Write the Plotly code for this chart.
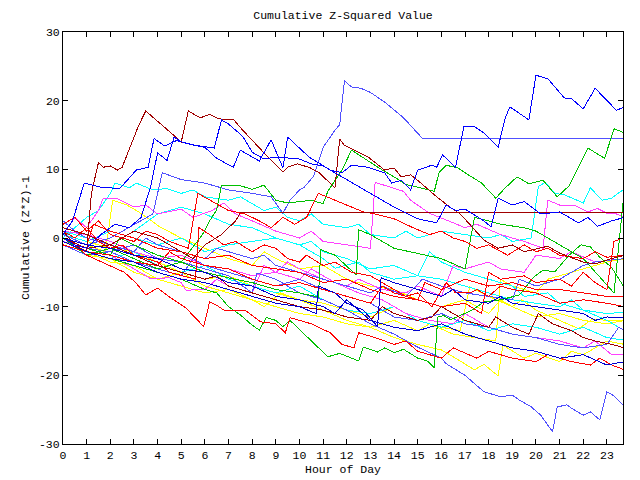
import plotly.graph_objects as go

# ---------------- data (hour of day, cumulative (Z*Z)-1) ----------------
x_ticks = list(range(0, 24))
y_ticks = [-30, -20, -10, 0, 10, 20, 30]

b1_x = [0, 0.4, 0.9, 1.6, 2.4, 3.1, 3.6, 3.85, 4.3, 4.8, 5.4, 6.0, 6.5, 7.2, 7.5, 8.3, 8.8, 9.3, 9.5, 10.4, 11.3, 11.8, 12.2, 12.9, 13.6, 13.9, 14.3, 14.7, 15.0, 15.6, 15.8, 16.05, 16.6, 16.95, 17.4, 17.8, 18.4, 18.7, 18.9, 19.7, 20.0, 20.5, 21.2, 21.5, 22.0, 22.5, 22.9, 23.4, 23.75]
b1_y = [0.5, 2.5, 8, 7.4, 7.2, 9.9, 10.3, 14.5, 13.4, 14.2, 13.6, 13.2, 11.6, 10.3, 12.8, 11.2, 14.3, 10.2, 14.7, 11.8, 9.9, 9.5, 10.6, 10.3, 9.5, 8, 8.4, 7, 9.9, 10.6, 10.3, 12.1, 10.3, 16.2, 16.2, 15.3, 13.2, 17.5, 19.1, 17.2, 23.7, 23.2, 20.4, 20.3, 18.8, 21.8, 20.4, 18.6, 19.1]

b3_x = [0, 0.5, 1, 1.6, 2.2, 2.8, 3.3, 3.7, 4.0, 4.4, 4.7, 5.0, 5.6, 6.4, 6.7, 7.0, 7.6, 8.0, 8.5, 9.0, 10, 10.5, 11, 12, 13, 14, 15, 15.8, 16.2, 16.6, 17.0, 17.8, 18.1, 18.4, 19.0, 19.5, 20.2, 21, 21.8, 22.2, 22.6, 23.2, 23.75]
b3_y = [0, -1, -1.5, 0.5, 2, 1.5, 3, 7.4, 12.4, 11.3, 14.7, 14.0, 13.5, 13.1, 17.2, 16.6, 14.8, 12.5, 11.5, 11.8, 11.5, 10.8, 10.5, 8.5, 6.5, 4.5, 2.8, 2.2, 4.8, 4.0, 4.2, 2.5, 1.6, 5.8, 4.8, 5.3, 3.5, 3.8, 2.2, 3.0, 1.7, 2.5, 3.0]

nv1_x = [0, 1, 2, 3, 4, 5, 6, 7, 8, 9, 10, 10.7, 10.8, 11.5, 12, 12.7, 13.3, 13.45, 14, 15, 16, 16.5, 17, 18, 18.5, 19, 20, 21, 22, 22.5, 23, 23.75]
nv1_y = [-0.5, -2, -3, -3.5, -5, -6, -6.5, -7.5, -8.5, -9.5, -10, -11, -7, -8, -9.5, -10.5, -12.9, -5.8, -6.5, -7.5, -8.5, -7.5, -9, -9.5, -8.5, -9.5, -10, -10.5, -11, -12, -11.5, -11.6]

nv2_x = [0, 1, 2, 3, 4, 5, 6, 7, 8, 9, 10, 11, 11.5, 12, 13, 14, 15, 16, 17, 18, 19, 20, 21, 22, 23, 23.75]
nv2_y = [0, -1, -1.5, -2.5, -3, -4.5, -5, -6.5, -7, -8.5, -9, -10, -11, -9, -12, -13, -13.5, -12.5, -14, -15, -16, -16.5, -17.5, -17, -18.5, -18]

lb1_x = [0, 1, 2, 3, 3.8, 4.2, 5, 6, 7, 8, 8.8, 9.3, 9.6, 10.0, 10.2, 10.6, 11.0, 11.5, 11.7, 11.9, 12.2, 12.6, 13.0, 13.6, 14.4, 15.2, 23.75]
lb1_y = [0.5, -1, 0, 2, 3.5, 9.5, 8.5, 8, 7, 6.5, 6.0, 3.6, 5.5, 7, 7.4, 9, 13.2, 15.7, 16.5, 22.9, 22, 21.8, 21.2, 19.8, 17.5, 14.5, 14.5]

lb2_x = [0, 1, 2, 3, 4, 5, 6, 7, 8, 8.2, 9, 10, 11, 12, 13, 14, 15, 16, 16.2, 17, 17.8, 18.5, 19, 19.3, 19.8, 20.2, 20.7, 20.9, 21.3, 21.6, 22, 22.3, 22.7, 23, 23.3, 23.75]
lb2_y = [0, -1.5, -2, -1, -3, -3.5, -4.5, -5.5, -8, -5.1, -6, -8, -9, -10.5, -12.5, -14, -15.9, -17.5, -18.3, -20, -22.4, -23.1, -22.9, -23.6, -24.6, -25.8, -28.2, -24.6, -24.3, -25, -25.8, -25.3, -26.5, -22.4, -23, -24.6]

lb3_x = [0, 0.5, 1, 2, 3, 3.5, 4, 5, 6, 6.5, 7, 8, 8.5, 9, 10, 11, 12, 13, 13.5, 14.5, 15.2, 16, 17, 18, 19, 19.3, 20, 21, 22, 22.5, 23.75]
lb3_y = [2.5, 1, 0, -1, -2, 0, -1, -2, -3, -1.5, -2, -3, -2.5, -4, -5, -6, -7, -8, -7, -8.5, -6, -7, -8, -8.5, -9, -6, -7, -6, -4, -3.5, -3]

lb4_x = [0, 1, 2, 3, 4, 5, 5.5, 6, 7, 8, 9, 10, 11, 12, 13, 13.5, 14, 15, 16, 17, 18, 19, 20, 21, 22, 23, 23.5, 23.75]
lb4_y = [-1, -2.5, -2, -3.5, -4.5, -5.5, -3, -4, -5, -6, -7, -6, -7.5, -8.5, -9.5, -10.5, -11.5, -12, -11, -12.5, -13, -14, -14.5, -15.5, -16, -15.5, -13, -13.5]

dr1_x = [0, 0.5, 1, 1.2, 1.5, 1.7, 2.0, 2.3, 2.5, 2.85, 3.2, 3.5, 5.0, 5.3, 5.8, 6.2, 6.5, 6.8, 7.2, 7.6, 8.3, 8.5, 9.3, 9.5, 9.9, 10.4, 10.8, 11.5, 11.7, 11.9, 12.9, 13.6, 14.0, 14.3, 14.7, 15.0, 15.8, 16.4, 16.8, 17.4, 17.8, 18.4, 19, 19.5, 20.5, 21, 22, 22.5, 23.2, 23.75]
dr1_y = [1, -1, -2, 6.5, 11, 10.3, 10.5, 9.9, 10.3, 13.5, 16.4, 18.5, 14.0, 18.5, 17.5, 18.0, 17.5, 17.2, 17.3, 15.7, 13.1, 12.4, 9.6, 10.3, 10.8, 10.3, 9.6, 7.3, 14.4, 13.5, 11.8, 9.9, 10.2, 8.9, 9.2, 8.4, 6.0, 4.4, 3.5, 1.2, -0.3, -1.5, -1.0, -2, -1.2, -2.2, -3.5, -3.8, -3, -2.5]

dr2_x = [0, 1, 2, 3, 4, 5, 5.5, 6, 6.7, 7.3, 7.5, 23.75]
dr2_y = [1.5, 0.5, -1, 1, 0, -2, -3, -1, 0.5, 2.5, 3.7, 3.7]

dr3_x = [0, 1, 2, 3, 4, 5, 6, 6.5, 7, 8, 9, 10, 11, 12, 13, 13.5, 14, 15, 15.6, 16, 17, 18, 18.3, 19, 19.7, 20.1, 20.7, 21.5, 22, 22.5, 23.2, 23.75]
dr3_y = [0, -1.5, -1, -2.5, -4, -5, -6, -5.5, -7, -8, -9, -10, -10.5, -11.5, -12, -10, -11, -12, -11.5, -10, -12, -13, -11.5, -13, -14, -11, -12.5, -13.5, -14.5, -15, -15.5, -16]

g1_x = [0, 1, 2, 3, 4, 5, 5.9, 6.2, 6.5, 6.7, 7.5, 8.0, 8.5, 9, 9.5, 10.5, 11, 11.2, 11.5, 11.8, 12.2, 13, 13.5, 14.0, 14.5, 15, 15.7, 15.9, 16.2, 16.7, 17.0, 17.7, 18.3, 18.7, 19.2, 19.7, 20.3, 20.9, 21.4, 21.8, 22.2, 22.9, 23.3, 23.75]
g1_y = [0, -2.5, -1.5, -3, -4.5, -3.5, 0.5, 2.5, 4.1, 7.7, 7.6, 7.1, 7.7, 5.5, 5.1, 5.5, 5.0, 6.8, 8.4, 9.9, 12.8, 11, 9.9, 8.9, 7.8, 7.4, 6.8, 9.5, 10.6, 10.2, 9.5, 8.0, 5.8, 7.3, 8.9, 7.9, 8.4, 6.0, 7.6, 10.3, 13.1, 11.6, 15.9, 15.3]

g2_x = [0, 1, 2, 2.4, 3, 4, 5, 6, 7, 8, 9, 10, 10.8, 10.9, 11.5, 12.4, 12.5, 13, 14, 15, 16, 17, 17.4, 18, 18.5, 19.5, 20, 21, 22, 23.3, 23.6, 23.75]
g2_y = [0, -1.5, -2.5, 0, -1, -2.5, -3.5, -5, -5.8, -6.5, -7.5, -8, -8.6, -1.7, -2.5, -5.4, 1.2, 0.5, -1.5, -2.3, -3, -4.5, 3.0, 2.5, 2.0, 1.5, 1.0, -1, -3, -8, 2, 7.5]

g3_x = [0, 1, 2, 3, 4, 5, 6, 6.5, 7.0, 7.5, 8, 8.3, 8.6, 9, 9.3, 9.6, 11.2, 11.7, 12.5, 12.7, 13.3, 13.6, 14, 14.4, 15, 15.4, 15.7, 15.85, 16.1, 16.4, 17.3, 17.8, 18.5, 19.3, 19.9, 20.3, 20.8, 21.4, 21.9, 22.3, 22.7, 23.2, 23.75]
g3_y = [0, -2, -3, -4, -5, -6, -7.5, -8, -10, -11.2, -12.7, -13.4, -11.6, -12, -12.9, -12, -17.3, -16.8, -17.9, -15.9, -16.6, -16, -16.7, -16.2, -17.5, -17.9, -18.9, -11.5, -11.3, -11.9, -10.5, -9.3, -9.0, -8.3, -5.7, -4.7, -4.9, -2.5, -1.0, -1.3, -2.8, -4.3, -7.3]

c1_x = [0, 0.5, 1, 1.5, 2, 2.2, 2.8, 3.1, 3.8, 4.4, 5.0, 5.5, 6, 7, 7.5, 8, 8.5, 9, 9.5, 10, 10.5, 11, 12, 12.5, 13, 14, 14.5, 15, 15.5, 16, 17, 18, 18.5, 19, 19.8, 20.1, 20.4, 20.8, 21.2, 22, 22.3, 22.8, 23.2, 23.75]
c1_y = [0, 1.5, 3, 4, 6.5, 8.0, 7.3, 8.0, 7.0, 7.2, 6.5, 7.0, 6, 5.5, 6, 5.0, 4, 4.5, 3, 2.5, 3.5, 2, 1.5, 2, 0.5, 0, 1.0, 0, 0.5, 1.0, 0.5, 0, 0.5, -0.5, 0, 7.5, 8.1, 6.5, 6.3, 5.1, 7.3, 5.5, 5.8, 7.2]

c2_x = [0, 1, 2, 3, 4, 5, 6, 7, 8, 9, 10, 10.5, 11, 12, 13, 14, 15, 16, 17, 18, 19, 20, 21, 21.5, 22, 23, 23.75]
c2_y = [1, 0, -1, 1, 3.5, 4.5, 3.5, 2, 1.5, 0, -1, -0.5, -2, -3, -4.5, -4, -5.5, -6, -7, -8, -9, -9.5, -10, -9, -10.5, -11, -10.8]

c3_x = [0, 1, 2, 3, 4, 5, 6, 7, 8, 9, 10, 11, 12, 13, 14, 15, 16, 17, 18, 19, 20, 21, 22, 23, 23.75]
c3_y = [-1, -2, -3, -2, -4, -5, -4, -6, -7, -8, -7, -9, -10.5, -11, -10, -12, -13, -12, -13.5, -12.5, -13, -14, -13, -14.5, -14.9]

c4_x = [0, 1, 2, 3, 4, 5, 6, 7, 8, 9, 10, 11, 11.5, 12.5, 13, 14, 15, 15.5, 16, 17, 18, 19, 19.5, 20.5, 21, 22, 23, 23.75]
c4_y = [0.5, -0.5, 1, 0, -1, 0, -2, -1, -0.5, 0, -1, -3, -4.4, -3.5, -5, -6, -5.5, -2, -3.5, -5, -6, -7, -8.5, -8, -9.5, -10.5, -12, -13.5]

m1_x = [0, 0.5, 1, 1.5, 1.7, 2.3, 3, 3.5, 4, 5, 5.5, 6.3, 6.8, 7.3, 8, 9, 10, 10.5, 11, 12, 13, 13.2, 13.8, 14.4, 14.7, 15.5, 16.3, 17, 17.5, 18.5, 19.5, 20.3, 20.5, 21, 21.6, 22.2, 22.6, 23.0, 23.4, 23.75]
m1_y = [0.5, 3, 1.5, 4, 5.8, 5.7, 4.5, 4.8, 3.5, 4.2, 3, 4.0, 5.1, 3.5, 2.5, 1, 0, 1, -0.5, -1, -1.5, 8.1, 7.4, 6.8, 5.5, 3.6, 2.5, 1.5, 2, 0.5, -0.5, -1.5, 5.5, 4.8, 4.8, 3.8, 4.3, 3.6, 3.5, 3.0]

m2_x = [0, 1, 2, 3, 3.7, 4.5, 5, 5.2, 6, 6.5, 7, 8, 8.5, 9, 10, 10.5, 11.5, 12.5, 13.5, 14.5, 15.5, 16.5, 17, 18, 19, 20, 21, 22, 22.5, 23.2, 23.75]
m2_y = [-0.5, -1.5, -2.5, -4.5, -5.9, -5.8, -6.5, -7.6, -7.5, -6, -7, -8, -4, -5, -6, -4.5, -6.5, -8, -9, -11, -12, -12.5, -11, -13, -14, -14.5, -15, -16, -15, -17, -17]

m3_x = [0, 1, 2, 3, 4, 5, 6, 7, 8, 9, 9.5, 10, 11, 12, 12.5, 13.5, 14.5, 15, 16, 16.5, 17, 18, 18.5, 19.5, 20, 21, 21.5, 22.5, 23.75]
m3_y = [1, 0.5, -0.5, -2, -3, -2.5, -4, -4.5, -5.5, -5, -3.5, -4.5, -6, -7, -6, -7.5, -8, -7, -8.5, -4, -4.5, -3.5, -4.5, -5, -2.5, -3, -2, -3.5, -3]

y1_x = [0, 1, 1.8, 2.1, 2.7, 3.2, 3.7, 4.1, 5, 6, 7, 8, 8.5, 9, 10, 11, 12, 13, 14, 15, 16, 17, 18, 18.5, 19, 20, 21, 22, 23, 23.75]
y1_y = [0, -1, -2, 5.5, 4.8, 3.8, 2.6, 1.6, 0, -1.5, -3, -4, -2, -3, -4.5, -4, -6, -7, -7.5, -9, -10, -9, -11, -9, -10, -11.5, -11, -12, -12.5, -12]

y2_x = [0, 1, 2, 3, 4, 5, 6, 7, 8, 9, 10, 11, 12, 13, 14, 15, 16, 16.6, 17.4, 17.8, 18.4, 18.6, 19.5, 20, 21, 21.5, 22, 23, 23.75]
y2_y = [-0.5, -2, -3.5, -4, -6, -7, -8, -7.5, -9, -10, -11, -11.5, -12.5, -13, -14.5, -15.5, -16.3, -17.5, -19.2, -18.4, -20.1, -15.6, -17.5, -16.8, -18, -16.5, -17, -15, -15.5]

y3_x = [0, 1, 2, 3, 4, 5, 6, 7, 8, 9, 10, 11, 12, 13, 14, 15, 16, 16.8, 17.2, 18, 19, 19.4, 20, 21, 21.8, 22.4, 23, 23.75]
y3_y = [0.5, -0.5, -1.5, -2, -3.5, -5, -6, -5.5, -7, -8, -9, -9.5, -10.5, -11.5, -10, -12, -13, -13.5, -7.1, -8.5, -10, -9, -10.5, -12, -13.2, -11.8, -12, -12]

y4_x = [0, 1, 2, 3, 4, 5, 6, 7, 8, 8.5, 9.2, 10, 11, 12, 13, 14, 15, 15.5, 16.5, 17.5, 18.3, 18.5, 19, 20, 20.5, 21.5, 22, 23, 23.75]
y4_y = [-1, -2.5, -3, -5, -6, -5, -7, -8, -9, -10, -8, -9, -10.5, -12, -13, -12, -13.5, -12.5, -14, -14.5, -15, -6, -7, -8, -6, -5, -4.5, -3.5, -3]

r1_x = [0, 0.5, 1, 2, 2.6, 3.1, 3.5, 4.0, 4.5, 5.2, 5.95, 6.2, 6.5, 6.8, 7.7, 8.35, 9.0, 9.4, 9.6, 10.5, 11.3, 11.8, 12.3, 12.5, 13.2, 14, 14.5, 15, 16, 16.5, 17.5, 18, 19, 20, 20.5, 21.5, 22.3, 22.7, 23.2, 23.75]
r1_y = [0, -1, -2.5, -4, -5, -6.6, -8.3, -7.3, -8.6, -10.2, -12.9, -9.3, -9.8, -10.5, -10.5, -12.2, -12.5, -13.8, -11.6, -12.5, -13.8, -15.5, -16, -13.8, -14.5, -15.5, -15, -16.5, -17.5, -16, -17.5, -16.5, -17.5, -18, -17, -18, -18.5, -17.5, -18.5, -19.2]

r2_x = [0, 0.5, 1, 1.5, 2, 2.5, 3, 4, 4.5, 5, 5.6, 5.75, 6.2, 6.8, 7.3, 8, 8.5, 9, 9.5, 10, 10.3, 11, 11.5, 12.2, 13, 13.5, 14, 14.5, 15, 15.6, 16.2, 16.6, 17.2, 17.5, 18, 18.5, 19, 20, 21, 22, 23, 23.75]
r2_y = [1, 0, 1.5, -0.5, -1.5, -1, -2.5, -3.5, -5, -5.5, -6, 1.5, 0.5, -1, -0.5, -2, -1, -1.5, -3, -3.5, -2.5, -4, -3.5, -5, -5.5, -6.5, -7.5, -8.5, -8, -10, -6.5, -8, -8, -7.5, -8.5, -7, -7.5, -8, -9.5, -9, -9.5, -10]

r3_x = [0, 0.5, 1, 1.5, 2, 3, 3.5, 4, 4.5, 5.3, 5.7, 6.2, 7, 7.7, 8.3, 8.8, 9.3, 9.8, 10.3, 10.8, 11.5, 12, 12.7, 13.2, 14, 14.8, 15.5, 16, 16.5, 17, 17.5, 18, 18.8, 19.5, 20, 20.5, 21, 22, 22.5, 23, 23.75]
r3_y = [2, 3, 1, 2.5, 0.5, -0.5, 1, 0.5, -0.5, -1.5, 6.5, 5.5, 4.0, 3.5, 2.5, 1.5, 3, 2, 3, 6.5, 5.5, 4.8, 3.8, 3.5, 2.8, 1.5, 0.5, 1, 0, -0.5, -1.5, -1, -2.5, -1, -2, -1.5, -2.5, -3, -2, -2.8, -2.5]

r4_x = [0, 1, 2, 3, 4, 4.5, 5, 6, 7, 8, 9, 10, 11, 12, 13, 13.5, 14, 15, 16, 17, 17.7, 18, 18.5, 19.5, 20, 21, 21.5, 22, 22.5, 23, 23.3, 23.75]
r4_y = [-1, -2, -2.5, -3.5, -4, -2, -3, -4, -4.5, -6, -7, -6.5, -7.5, -8.5, -9.5, -7, -8, -9, -10, -9.5, -11, -5, -6, -5.5, -6.5, -6, -7, -5, -6.5, -7.5, -0.5, 0.1]

r5_x = [0, 1, 1.3, 2, 3, 4, 5, 6, 7, 8, 9, 10, 11, 12, 13, 14, 15, 15.3, 16, 17, 18, 19, 20, 21, 22, 23, 23.75]
r5_y = [0, -1, 2, 1, 0, -1.5, -2, -3, -2.5, -4, -4.5, -5, -6.5, -6, -7.5, -8.5, -9, -6.5, -7.5, -6, -7, -6.5, -7.5, -7.5, -8, -8.5, -8.6]

# ---------------- styling ----------------
RED = "#ff0000"
GREEN = "#00c000"
BLUE = "#0000ff"
NAVY = "#0000d0"
MAGENTA = "#ff40ff"
CYAN = "#00ffff"
DARKRED = "#a00000"
YELLOW = "#ffff00"
LIGHTBLUE = "#5050ff"

series = [
    (y1_x, y1_y, YELLOW), (y2_x, y2_y, YELLOW), (y3_x, y3_y, YELLOW), (y4_x, y4_y, YELLOW),
    (c1_x, c1_y, CYAN), (c2_x, c2_y, CYAN), (c3_x, c3_y, CYAN), (c4_x, c4_y, CYAN),
    (m1_x, m1_y, MAGENTA), (m2_x, m2_y, MAGENTA), (m3_x, m3_y, MAGENTA),
    (lb3_x, lb3_y, LIGHTBLUE), (lb4_x, lb4_y, LIGHTBLUE), (lb2_x, lb2_y, LIGHTBLUE), (lb1_x, lb1_y, LIGHTBLUE),
    (g2_x, g2_y, GREEN), (g3_x, g3_y, GREEN), (g1_x, g1_y, GREEN),
    (r1_x, r1_y, RED), (r2_x, r2_y, RED), (r3_x, r3_y, RED), (r4_x, r4_y, RED), (r5_x, r5_y, RED),
    (dr1_x, dr1_y, DARKRED), (dr3_x, dr3_y, DARKRED), (dr2_x, dr2_y, DARKRED),
    (nv1_x, nv1_y, NAVY), (nv2_x, nv2_y, NAVY),
    (b3_x, b3_y, BLUE), (b1_x, b1_y, BLUE),
]

fig = go.Figure()
for xs, ys, col in series:
    fig.add_trace(go.Scatter(x=xs, y=ys, mode="lines",
                             line=dict(color=col, width=1),
                             hoverinfo="skip", showlegend=False))

FONT = "Liberation Mono"
fig.update_layout(
    width=640, height=480,
    margin=dict(l=63, r=17, t=32, b=36, autoexpand=False),
    paper_bgcolor="white", plot_bgcolor="white",
    showlegend=False,
    font=dict(family=FONT, size=11, color="black"),
    title=dict(text="Cumulative Z-Squared Value", x=0.536, xanchor="center",
               y=1 - 15 / 480, yanchor="middle", yref="container",
               font=dict(family=FONT, size=11.5, color="black")),
)
fig.update_xaxes(range=[0, 23.68], tickmode="array", tickvals=x_ticks,
                 ticktext=[str(v) for v in x_ticks], automargin=False,
                 ticks="inside", ticklen=5, tickcolor="black",
                 showline=True, linecolor="black", linewidth=1, mirror="ticks",
                 showgrid=False, zeroline=False,
                 title=dict(text="Hour of Day", standoff=4,
                            font=dict(family=FONT, size=11.5)),
                 tickfont=dict(family=FONT, size=11.5))
fig.update_yaxes(range=[-30, 30], tickmode="array", tickvals=y_ticks,
                 ticktext=[str(v) for v in y_ticks], automargin=False,
                 ticks="inside", ticklen=5, tickcolor="black",
                 showline=True, linecolor="black", linewidth=1, mirror="ticks",
                 showgrid=False, zeroline=False,
                 title=dict(text="Cumulative (Z*Z)-1", standoff=6,
                            font=dict(family=FONT, size=11.5)),
                 tickfont=dict(family=FONT, size=11.5))

style_js = ("var s=document.createElement('style');"
            "s.innerHTML='body{margin:0;padding:0;}"
            ".scatterlayer path{shape-rendering:crispEdges}';"
            "document.head.appendChild(s);")
fig.write_html("out.html", post_script=style_js,
               config={"displayModeBar": False, "staticPlot": True})
